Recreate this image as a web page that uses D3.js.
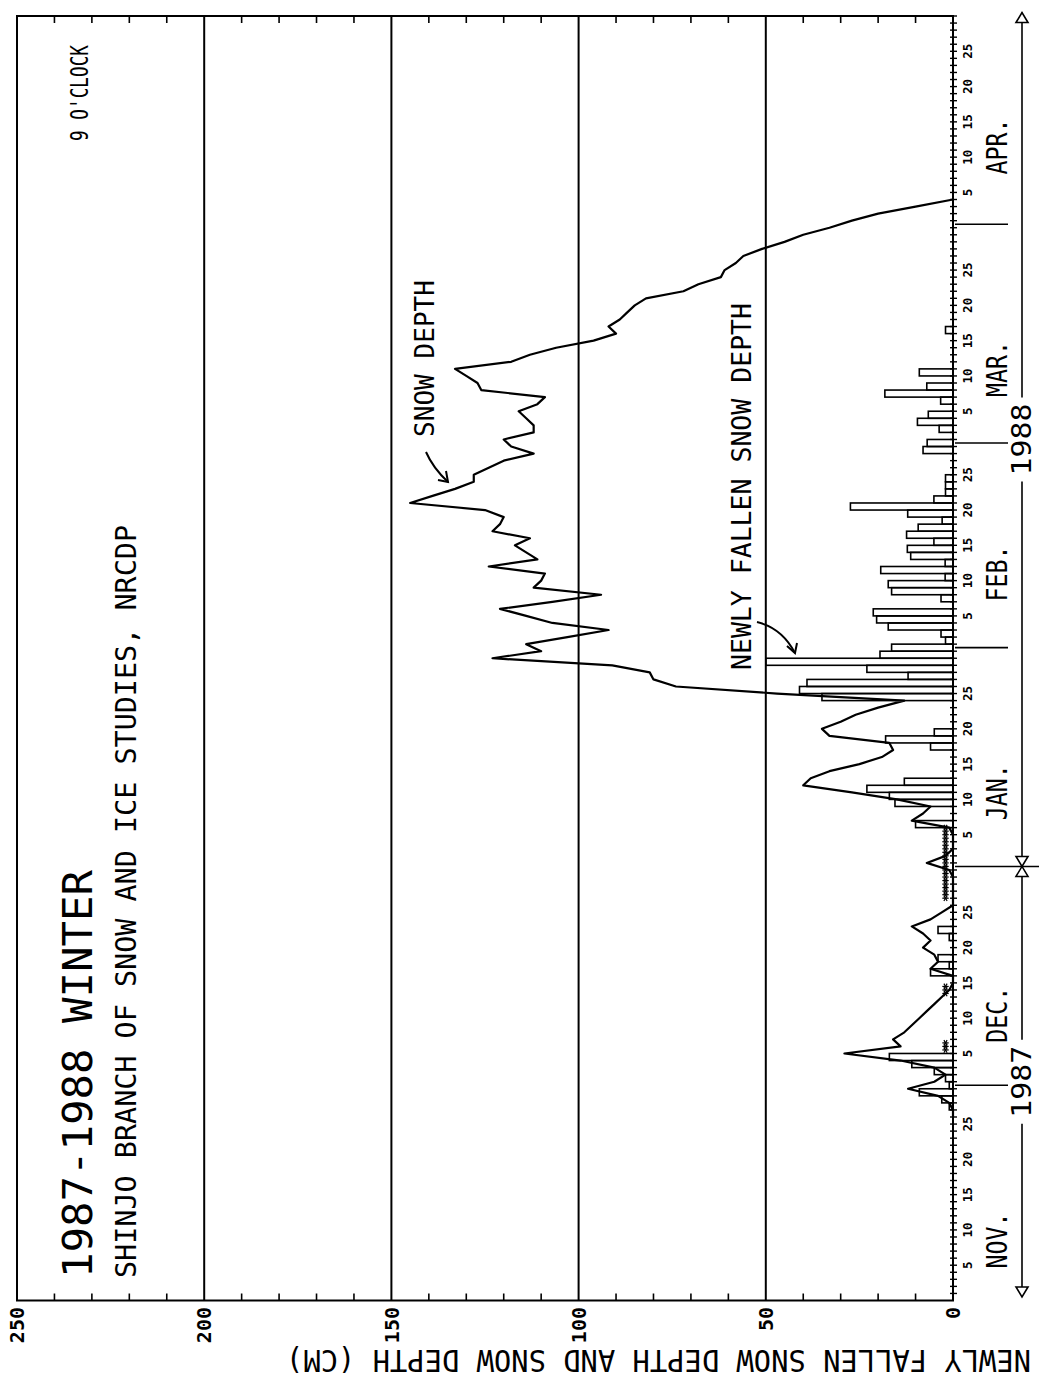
<!DOCTYPE html>
<html><head><meta charset="utf-8">
<script src="https://cdn.jsdelivr.net/npm/d3@7"></script>
<style>body{margin:0;background:#fff}</style>
</head><body>
<script>
// ---------- DATA ----------
// day index: 1 = Nov 1 1987 ... 182 = Apr 30 1988
const valueTicks = [0, 50, 100, 150, 200, 250];
const valueTickLabels = ["0", "50", "100", "150", "200", "250"];
const minorValueTicks = [10, 20, 30, 40, 60, 70, 80, 90, 110, 120, 130, 140, 160, 170, 180, 190, 210, 220, 230, 240];
const monthNames = ["NOV.", "DEC.", "JAN.", "FEB.", "MAR.", "APR."];
const monthFirstDay = [1, 31, 62, 93, 122, 153];
const monthLength = [30, 31, 31, 29, 31, 30];
const monthLabelDay = [8.5, 10.5, 11, 11, 11, 11.5];
const dayTickLabels = [5, 10, 15, 20, 25];
const yearNames = ["1987", "1988"];
const yearRange = [[0, 62], [62, 182]];

// snow depth (cm), consecutive days starting at day 26 (Nov 26)
const snowStartDay = 26;
const snowDepth = [
  0, 0, 1, 4, 12,                                   // Nov 26-30
  5, 2, 5, 14, 29, 14, 16, 13, 11, 9, 7, 5, 3, 1, 0, // Dec 1-15
  0, 6, 4, 5, 8, 6, 8, 11, 6, 3, 0, 0, 0, 0, 0, 1,   // Dec 16-31
  7, 2, 0, 0, 0, 1, 11, 8, 6, 15, 27, 40, 38, 33, 25, 19, // Jan 1-16
  16, 17, 33, 35, 30, 26, 20, 13, 47, 74, 80, 81, 91, 123, 110, // Jan 17-31
  114, 103, 92, 107, 114, 121, 107, 94, 112, 110, 109, 124, 111, 114, 117, // Feb 1-15
  113, 123, 121, 120, 125, 145, 139, 133, 128, 128, 124, 120, 112, 118,     // Feb 16-29
  120, 112, 112, 114, 116, 111, 109, 126, 127, 130, 133, 118, 113, 106, 96, 90, // Mar 1-16
  92, 89, 87, 85, 82, 72, 68, 62, 61, 58, 56, 51, 45, 40, 33,  // Mar 17-31
  27, 20, 10, 0                                      // Apr 1-4
];

// newly fallen snow depth (cm)
const newDays = [28, 29, 30, 31, 32, 33, 34, 35, 47, 48, 49, 52, 53,
  68, 71, 72, 73, 74, 79, 80, 81, 86, 87, 88, 89, 90, 91, 92, 93,
  94, 95, 96, 97, 98, 100, 101, 102, 103, 104, 105, 106, 107, 108, 109, 110,
  111, 112, 113, 114, 115, 116, 117, 121, 122, 124, 125, 126, 128, 129, 130, 132, 138];
const newFallen = [1, 3, 9, 1, 2, 5, 11, 17, 6, 1, 4, 1, 4,
  10, 15.5, 17, 23, 13, 6, 18, 5, 35, 41, 39, 12, 23, 50, 19.5, 16.4,
  2, 3.2, 17.3, 20.4, 21.3, 3.2, 16.4, 17.3, 2.1, 19.3, 2.1, 11.3, 12.2, 5.1, 12.4, 9.3,
  2.9, 12.1, 27.4, 5.1, 2, 2, 2, 8, 6.9, 3.7, 9.5, 6.6, 3.3, 18.2, 7, 9, 2];

// asterisk marks near the axis
const starDays = [35.5, 36, 36.5, 43.5, 44, 44.5,
  57, 57.5, 58, 58.5, 59, 59.5, 60, 60.5, 61, 61.5, 62, 62.5, 63, 63.5, 64, 64.5, 65, 65.5, 66, 66.5, 67];
const starValue = 2;

// ---------- CHART ----------
const W = 1039, H = 1388;
const FONT = "'DejaVu Sans Mono', 'Liberation Mono', monospace";
const svg = d3.select("body").append("svg").attr("width", W).attr("height", H)
  .style("background", "#fff");
svg.append("rect").attr("width", W).attr("height", H).attr("fill", "#fff");

const x = d3.scaleLinear().domain([0, 250]).range([953, 17]);
const y = d3.scaleLinear().domain([0, 182]).range([1300.5, 16]);

// vertical grid lines at labelled values
svg.append("g").selectAll("line").data(valueTicks.filter(d => d > 0 && d < 250)).join("line")
  .attr("x1", d => x(d)).attr("x2", d => x(d))
  .attr("y1", y(182)).attr("y2", y(0))
  .attr("stroke", "#000").attr("stroke-width", 2);

// frame
svg.append("rect").attr("x", x(250)).attr("y", y(182))
  .attr("width", x(0) - x(250)).attr("height", y(0) - y(182))
  .attr("fill", "none").attr("stroke", "#000").attr("stroke-width", 2);

// minor value ticks (top & bottom)
const mt = svg.append("g").attr("stroke", "#000").attr("stroke-width", 1.6);
mt.selectAll("line.b").data(minorValueTicks).join("line").attr("class", "b")
  .attr("x1", d => x(d)).attr("x2", d => x(d)).attr("y1", y(0)).attr("y2", y(0) - 7);
mt.selectAll("line.t").data(minorValueTicks).join("line").attr("class", "t")
  .attr("x1", d => x(d)).attr("x2", d => x(d)).attr("y1", y(182)).attr("y2", y(182) + 7);

// value labels
svg.append("g").selectAll("text").data(valueTicks).join("text")
  .attr("transform", d => `translate(${x(d)},1307) rotate(-90)`)
  .attr("text-anchor", "end").attr("dy", "0.36em")
  .attr("font-family", FONT).attr("font-weight", "bold").attr("font-size", 20)
  .text((d, i) => valueTickLabels[i]);

// axis title (upside down)
svg.append("text")
  .attr("transform", "translate(1031,1350) rotate(180)")
  .attr("font-family", FONT).attr("font-size", 30)
  .attr("textLength", 745).attr("lengthAdjust", "spacingAndGlyphs")
  .text("NEWLY FALLEN SNOW DEPTH AND SNOW DEPTH (CM)");

// day ticks on the date axis
const allDays = [];
monthFirstDay.forEach((f, i) => { for (let k = 0; k < monthLength[i]; k++) allDays.push(f + k); });
svg.append("g").selectAll("line").data(allDays).join("line")
  .attr("x1", x(0) - 3).attr("x2", x(0) + 4)
  .attr("y1", d => y(d)).attr("y2", d => y(d))
  .attr("stroke", "#000").attr("stroke-width", 1.4);

// day labels
const dayLab = [];
monthFirstDay.forEach(f => dayTickLabels.forEach(dl => dayLab.push({ d: f + dl - 1, t: String(dl) })));
svg.append("g").selectAll("text").data(dayLab).join("text")
  .attr("transform", d => `translate(972,${y(d.d)}) rotate(-90)`)
  .attr("text-anchor", "middle")
  .attr("font-family", FONT).attr("font-weight", "bold").attr("font-size", 12.5)
  .text(d => d.t);

// month boundary ticks
svg.append("g").selectAll("line").data(monthFirstDay.slice(1)).join("line")
  .attr("x1", x(0) + 2).attr("x2", d => d === 62 ? 1039 : 1008)
  .attr("y1", d => y(d - 0.5)).attr("y2", d => y(d - 0.5))
  .attr("stroke", "#000").attr("stroke-width", 1.6);

// month labels
svg.append("g").selectAll("text").data(monthNames).join("text")
  .attr("transform", (d, i) => `translate(1007,${y(monthFirstDay[i] - 1 + monthLabelDay[i])}) rotate(-90)`)
  .attr("text-anchor", "middle")
  .attr("font-family", FONT).attr("font-size", 28)
  .attr("textLength", 56).attr("lengthAdjust", "spacingAndGlyphs")
  .text(d => d);

// year lines with arrows
const yr = svg.append("g").attr("stroke", "#000").attr("stroke-width", 1.6).attr("fill", "#fff");
const YX = 1022;
yearRange.forEach((r, i) => {
  const y0 = y(r[0] + (i === 0 ? 0.5 : -0.5)), y1 = y(r[1] + (i === 0 ? -0.5 : 0.5));
  const ym = (y(r[0]) + y(r[1])) / 2;
  const gap = 42;
  yr.append("line").attr("x1", YX).attr("x2", YX).attr("y1", y0).attr("y2", ym + gap);
  yr.append("line").attr("x1", YX).attr("x2", YX).attr("y1", ym - gap).attr("y2", y1);
  const yb = Math.max(y0, y1), yt = Math.min(y0, y1);
  yr.append("path").attr("d", `M${YX - 6},${yb - 10} L${YX + 6},${yb - 10} L${YX},${yb} Z`);
  yr.append("path").attr("d", `M${YX - 6},${yt + 10} L${YX + 6},${yt + 10} L${YX},${yt} Z`);
  svg.append("text")
    .attr("transform", `translate(${YX + 9},${ym}) rotate(-90)`)
    .attr("text-anchor", "middle")
    .attr("font-family", FONT).attr("font-size", 27)
    .attr("textLength", 72).attr("lengthAdjust", "spacingAndGlyphs")
    .text(yearNames[i]);
});

// newly fallen snow bars
svg.append("g").selectAll("rect").data(newDays).join("rect")
  .attr("x", (d, i) => x(newFallen[i]))
  .attr("width", (d, i) => x(0) - x(newFallen[i]))
  .attr("y", d => y(d))
  .attr("height", d => y(d - 1) - y(d))
  .attr("fill", "none").attr("stroke", "#000").attr("stroke-width", 1.6);

// snow depth line
const snowPts = snowDepth.map((v, i) => [snowStartDay + i, v]);
svg.append("path").datum(snowPts)
  .attr("d", d3.line().x(p => x(p[1])).y(p => y(p[0])))
  .attr("fill", "none").attr("stroke", "#000").attr("stroke-width", 2.2)
  .attr("stroke-linejoin", "round");

// asterisks
const star = svg.append("g").attr("stroke", "#000").attr("stroke-width", 1.2);
starDays.forEach(d => {
  const cx = x(starValue), cy = y(d), r = 3.2;
  [0, 60, 120].forEach(a => {
    const t = a * Math.PI / 180;
    star.append("line").attr("x1", cx - r * Math.cos(t)).attr("y1", cy - r * Math.sin(t))
      .attr("x2", cx + r * Math.cos(t)).attr("y2", cy + r * Math.sin(t));
  });
});

// titles
svg.append("text").attr("transform", "translate(92,1278) rotate(-90)")
  .attr("font-family", FONT).attr("font-size", 40)
  .attr("textLength", 408).attr("lengthAdjust", "spacingAndGlyphs")
  .text("1987-1988 WINTER");
svg.append("text").attr("transform", "translate(136,1278) rotate(-90)")
  .attr("font-family", FONT).attr("font-size", 29)
  .attr("textLength", 753).attr("lengthAdjust", "spacingAndGlyphs")
  .text("SHINJO BRANCH OF SNOW AND ICE STUDIES, NRCDP");
svg.append("text").attr("transform", "translate(88,141) rotate(-90)")
  .attr("font-family", FONT).attr("font-size", 24)
  .attr("textLength", 96).attr("lengthAdjust", "spacingAndGlyphs")
  .text("9 O'CLOCK");

// annotations
svg.append("text").attr("transform", "translate(434,437) rotate(-90)")
  .attr("font-family", FONT).attr("font-size", 27)
  .attr("textLength", 157).attr("lengthAdjust", "spacingAndGlyphs")
  .text("SNOW DEPTH");
svg.append("text").attr("transform", "translate(751,670) rotate(-90)")
  .attr("font-family", FONT).attr("font-size", 27)
  .attr("textLength", 367).attr("lengthAdjust", "spacingAndGlyphs")
  .text("NEWLY FALLEN SNOW DEPTH");

const ann = svg.append("g").attr("stroke", "#000").attr("stroke-width", 2).attr("fill", "none");
ann.append("path").attr("d", "M426,452 Q433,468 448,482");
ann.append("path").attr("d", "M438,480 L448,482 L446,471");
ann.append("path").attr("d", "M757,622 Q782,628 795,653");
ann.append("path").attr("d", "M787,646 L795,653 L797,643");
</script>
</body></html>
